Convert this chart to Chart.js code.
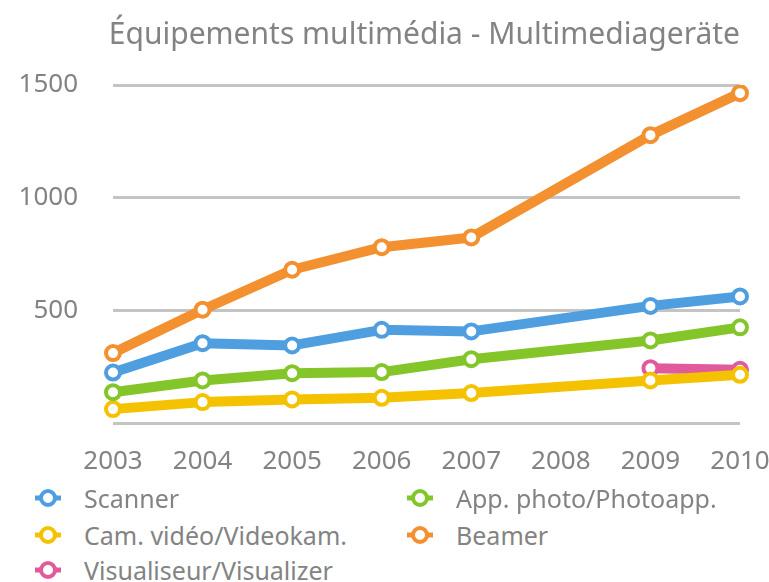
<!DOCTYPE html>
<html>
<head>
<meta charset="utf-8">
<script src="https://cdn.jsdelivr.net/npm/chart.js@4"></script>
<style>
    body { margin: 0; background: #fff; font-family: "Noto Sans", sans-serif; }
    #wrap { position: relative; width: 769px; height: 582px; overflow: hidden; }
    #title { position: absolute; right: 29px; top: 14px; color: #838383; font-size: 30px; line-height: 38px; white-space: nowrap; }
    #chartBox { position: absolute; left: 0; top: 0; width: 769px; height: 491px; }
    #legend { position: absolute; left: 34px; top: 481px; width: 735px; color: #838383; font-size: 25px; }
    .item { position: absolute; display: flex; align-items: center; white-space: nowrap; }
    .item svg { margin-right: 22px; }
</style>
</head>
<body>
<div id="wrap">
    <div id="chartBox"><canvas id="multimediaChart"></canvas></div>
    <div id="title"></div>
    <div id="legend"></div>
</div>
<script>
// Data
const years = ['2003', '2004', '2005', '2006', '2007', '2008', '2009', '2010'];
const scanner = [227, 357, 347, 416, 409, null, 522, 564];
const photoApp = [140, 192, 224, 229, 286, null, 369, 427];
const videoCam = [65, 96, 108, 115, 136, null, 192, 217];
const beamer = [313, 505, 682, 782, 825, null, 1278, 1464];
const visualizer = [null, null, null, null, null, null, 246, 239];
const yTicks = [0, 500, 1000, 1500];

const chartTitle = 'Équipements multimédia - Multimediageräte';
const seriesNames = ['Scanner', 'App. photo/Photoapp.', 'Cam. vidéo/Videokam.', 'Beamer', 'Visualiseur/Visualizer'];
const seriesColors = ['#4f9fe0', '#84c62a', '#f4c200', '#f39030', '#e05a9c'];
const seriesData = [scanner, photoApp, videoCam, beamer, visualizer];

const textColor = '#838383';

function makeDataset(i) {
    return {
        label: seriesNames[i],
        data: seriesData[i],
        borderColor: seriesColors[i],
        backgroundColor: '#ffffff',
        pointBackgroundColor: '#ffffff',
        pointBorderColor: seriesColors[i],
        borderWidth: 10,
        pointRadius: 7,
        pointBorderWidth: 4,
        pointHoverRadius: 7,
        tension: 0,
        spanGaps: true,
        borderCapStyle: 'round',
        borderJoinStyle: 'round'
    };
}

document.getElementById('title').textContent = chartTitle;

const ctx = document.getElementById('multimediaChart').getContext('2d');
const chart = new Chart(ctx, {
    type: 'line',
    data: {
        labels: years,
        datasets: seriesNames.map((n, i) => makeDataset(i))
    },
    options: {
        responsive: true,
        maintainAspectRatio: false,
        animation: false,
        layout: {
            padding: { left: 13, right: 29, top: 85, bottom: 0 }
        },
        plugins: {
            legend: { display: false },
            tooltip: { enabled: false }
        },
        scales: {
            x: {
                offset: false,
                afterFit: function(scale) {
                    // let the last year label run to the canvas edge
                    scale.paddingLeft = 0;
                    scale.paddingRight = 0;
                },
                grid: { display: false },
                border: { display: false },
                ticks: {
                    color: textColor,
                    font: { family: 'Noto Sans', size: 26 },
                    padding: 14,
                    maxRotation: 0
                }
            },
            y: {
                min: yTicks[0],
                max: yTicks[yTicks.length - 1],
                afterFit: function(scale) {
                    scale.width = 100;
                    scale.paddingTop = 0;
                    scale.paddingBottom = 0;
                },
                afterBuildTicks: function(scale) {
                    scale.ticks = yTicks.map(v => ({ value: v }));
                },
                grid: {
                    color: '#c4c4c4',
                    lineWidth: 3,
                    drawTicks: false
                },
                border: { display: false },
                ticks: {
                    color: textColor,
                    font: { family: 'Noto Sans', size: 26 },
                    padding: 35,
                    callback: function(value) { return value === 0 ? '' : value; }
                }
            }
        }
    }
});

// Legend in two columns, built from the chart's legend items
const legendEl = document.getElementById('legend');
const colX = [0, 372];
const rowY = [0, 37, 72];
chart.options.plugins.legend.labels.generateLabels(chart).forEach((item, i) => {
    const color = seriesColors[item.datasetIndex];
    const div = document.createElement('div');
    div.className = 'item';
    div.style.left = colX[i % 2] + 'px';
    div.style.top = rowY[Math.floor(i / 2)] + 'px';
    div.innerHTML =
        '<svg width="28" height="22"><line x1="1" y1="11" x2="27" y2="11" stroke="' + color + '" stroke-width="5"/>' +
        '<circle cx="14" cy="11" r="7" fill="#fff" stroke="' + color + '" stroke-width="4"/></svg>' +
        '<span>' + item.text + '</span>';
    legendEl.appendChild(div);
});
</script>
</body>
</html>
